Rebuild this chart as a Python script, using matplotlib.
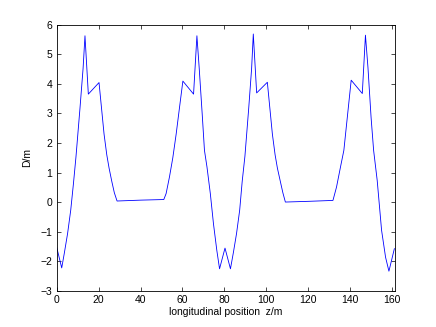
import matplotlib
matplotlib.use("Agg")
import matplotlib.pyplot as plt

plt.rcParams['font.family'] = ['Liberation Sans', 'DejaVu Sans']

# longitudinal position (m) and dispersion D (m)
z = [0.0, 2.4, 3.6, 5.2, 6.7, 8.0, 9.2, 11.1, 12.6, 13.5, 15.1, 20.2,
     22.6, 23.9, 25.0, 26.3, 27.5, 28.8, 40.3, 51.1, 52.2, 53.8, 55.4,
     57.0, 58.6, 60.2, 65.3, 66.9, 68.0, 69.4, 70.5, 71.7, 73.3, 74.8,
     76.4, 77.7, 80.3, 82.9, 84.3, 85.8, 87.3, 88.5, 89.8, 91.6, 93.0,
     93.8, 95.4, 100.5, 102.9, 104.2, 105.3, 106.7, 107.9, 109.1, 120.5,
     131.8, 133.5, 135.4, 137.0, 140.5, 145.8, 147.3, 148.5, 150.0,
     151.2, 152.9, 155.0, 156.9, 158.5, 161.1]
D = [-1.52, -2.22, -1.74, -1.06, -0.27, 0.63, 1.53, 3.16, 4.52, 5.62,
     3.65, 4.04, 2.30, 1.60, 1.15, 0.70, 0.32, 0.04, 0.07, 0.09, 0.29,
     0.85, 1.50, 2.30, 3.20, 4.09, 3.65, 5.62, 4.52, 3.00, 1.75, 1.19,
     0.29, -0.73, -1.63, -2.25, -1.55, -2.25, -1.70, -1.06, -0.27, 0.70,
     1.55, 3.16, 4.52, 5.68, 3.69, 4.05, 2.30, 1.60, 1.15, 0.70, 0.32,
     0.005, 0.03, 0.06, 0.51, 1.19, 1.75, 4.12, 3.67, 5.64, 4.55, 2.85,
     1.75, 0.74, -0.95, -1.86, -2.33, -1.57]

fig = plt.figure(figsize=(4.36, 3.27), dpi=100)
ax = fig.add_axes([0.13, 0.11, 0.775, 0.815])
ax.plot(z, D, color='#0000ff', linewidth=0.6)

ax.set_xlim(0, 161.2)
ax.set_ylim(-3, 6)
ax.set_xticks(range(0, 161, 20))
ax.set_yticks(range(-3, 7))
ax.tick_params(direction='in', length=3, width=0.5, labelsize=7.5,
               top=True, right=True, pad=3)
for s in ax.spines.values():
    s.set_linewidth(0.6)
ax.set_xlabel('longitudinal position  z/m', fontsize=7.5, labelpad=1)
ax.set_ylabel('D/m', fontsize=7.5, labelpad=6)

fig.savefig('out.png', dpi=100)
